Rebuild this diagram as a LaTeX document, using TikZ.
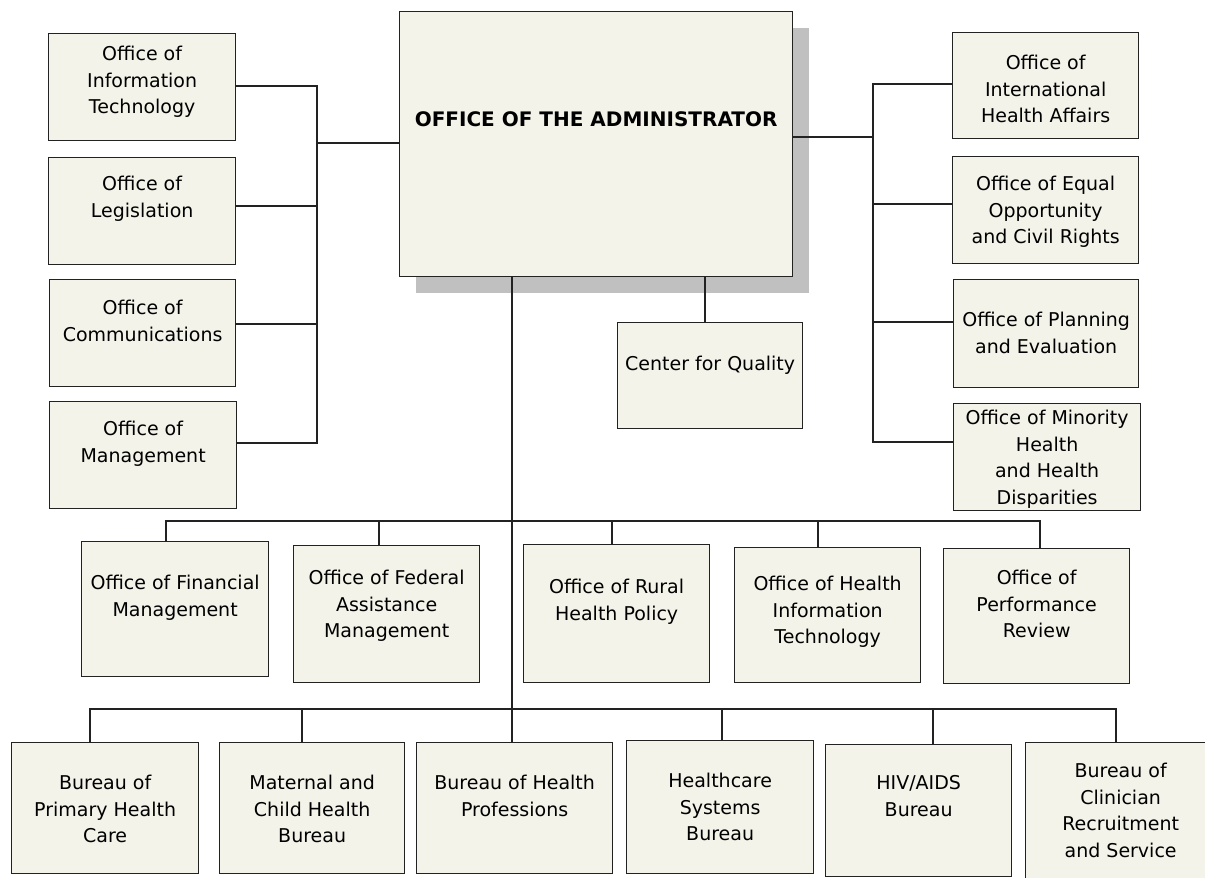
\documentclass[tikz,border=0pt]{standalone}
\usepackage{fontspec}
\setmainfont{DejaVu Sans}
\usetikzlibrary{shadows}

\definecolor{boxfill}{RGB}{244,243,233}
\definecolor{shadowc}{RGB}{192,192,192}
\definecolor{linec}{RGB}{34,34,34}

% text block of a unit: height, width, first baseline, lines
\newcommand{\boxtext}[4]{\parbox[c][#1pt][t]{#2pt}{\centering\rule{0pt}{#3pt}#4}}

\begin{document}
\begin{tikzpicture}[x=1pt, y=-1pt,
		box/.style={draw=linec, fill=boxfill, line width=1.3pt, inner sep=0pt, anchor=north west, font=\fontsize{19pt}{26.5pt}\selectfont},
		link/.style={draw=linec, line width=1.5pt, line cap=rect}]
	\useasboundingbox (0,0) rectangle (1205,878);

	% head office
	\node[box, drop shadow={shadow xshift=16pt, shadow yshift=-16pt, fill=shadowc, opacity=1}] (adm) at (399,11) {\boxtext{265}{393}{115}{\bfseries\fontsize{20pt}{24pt}\selectfont OFFICE OF THE ADMINISTRATOR}};
	\node[box] (cq) at (617,322) {\boxtext{106}{185}{48}{Center for Quality}};

	% staff offices
	\node[box] (oit) at (48,33) {\boxtext{107}{187}{27}{Office of\\Information\\Technology}};
	\node[box] (olg) at (48,157) {\boxtext{107}{187}{33}{Office of\\Legislation}};
	\node[box] (ocm) at (49,279) {\boxtext{107}{186}{35}{Office of\\Communications}};
	\node[box] (omg) at (49,401) {\boxtext{107}{187}{34}{Office of\\Management}};

	\node[box] (oih) at (952,32) {\boxtext{106}{186}{37}{Office of\\International\\Health Affairs}};
	\node[box] (oeo) at (952,156) {\boxtext{107}{186}{34}{Office of Equal\\Opportunity\\and Civil Rights}};
	\node[box] (opl) at (953,279) {\boxtext{108}{185}{47}{Office of Planning\\and Evaluation}};
	\node[box] (omh) at (953,403) {\boxtext{107}{187}{21}{Office of Minority\\Health\\and Health\\Disparities}};

	% offices
	\node[box] (ofm) at (81,541) {\boxtext{135}{187}{48}{Office of Financial\\Management}};
	\node[box] (ofa) at (293,545) {\boxtext{137}{186}{39}{Office of Federal\\Assistance\\Management}};
	\node[box] (orh) at (523,544) {\boxtext{138}{186}{49}{Office of Rural\\Health Policy}};
	\node[box] (ohi) at (734,547) {\boxtext{135}{186}{43}{Office of Health\\Information\\Technology}};
	\node[box] (opr) at (943,548) {\boxtext{135}{186}{36}{Office of\\Performance\\Review}};

	% bureaus
	\node[box] (bph) at (11,742) {\boxtext{131}{187}{47}{Bureau of\\Primary Health\\Care}};
	\node[box] (mch) at (219,742) {\boxtext{131}{185}{47}{Maternal and\\Child Health\\Bureau}};
	\node[box] (bhp) at (416,742) {\boxtext{131}{196}{47}{Bureau of Health\\Professions}};
	\node[box] (hsb) at (626,740) {\boxtext{133}{187}{47}{Healthcare\\Systems\\Bureau}};
	\node[box] (hab) at (825,744) {\boxtext{132}{186}{45}{HIV/AIDS\\Bureau}};
	\node[box] (bcr) at (1025,742) {\boxtext{140}{190}{35}{Bureau of\\Clinician\\Recruitment\\and Service}};

	\coordinate (lbus) at (317,143);
	\coordinate (rbus) at (873,137);
	\coordinate (mid) at (512,521);
	\coordinate (low) at (512,709);

	\draw[link] (oit.east |- 0,86) -- (lbus |- 0,86) -- (lbus |- 0,443) -- (omg.east |- 0,443);
	\draw[link] (olg.east |- 0,206) -- (lbus |- 0,206);
	\draw[link] (ocm.east |- 0,324) -- (lbus |- 0,324);
	\draw[link] (lbus) -- (adm.west |- lbus);

	\draw[link] (oih.west |- 0,84) -- (rbus |- 0,84) -- (rbus |- 0,442) -- (omh.west |- 0,442);
	\draw[link] (oeo.west |- 0,204) -- (rbus |- 0,204);
	\draw[link] (opl.west |- 0,322) -- (rbus |- 0,322);
	\draw[link] (adm.east |- rbus) -- (rbus);

	\draw[link] (adm.south -| 705,0) -- (cq.north -| 705,0);
	\draw[link] (adm.south -| low) -- (low);

	\draw[link] (mid -| 166,0) -- (mid -| 1040,0);
	\foreach \n/\x in {ofm/166, ofa/379, orh/612, ohi/818, opr/1040}
		\draw[link] (mid -| \x,0) -- (\n.north -| \x,0);

	\draw[link] (low -| 90,0) -- (low -| 1116,0);
	\foreach \n/\x in {bph/90, mch/302, bhp/512, hsb/722, hab/933, bcr/1116}
		\draw[link] (low -| \x,0) -- (\n.north -| \x,0);
\end{tikzpicture}
\end{document}
